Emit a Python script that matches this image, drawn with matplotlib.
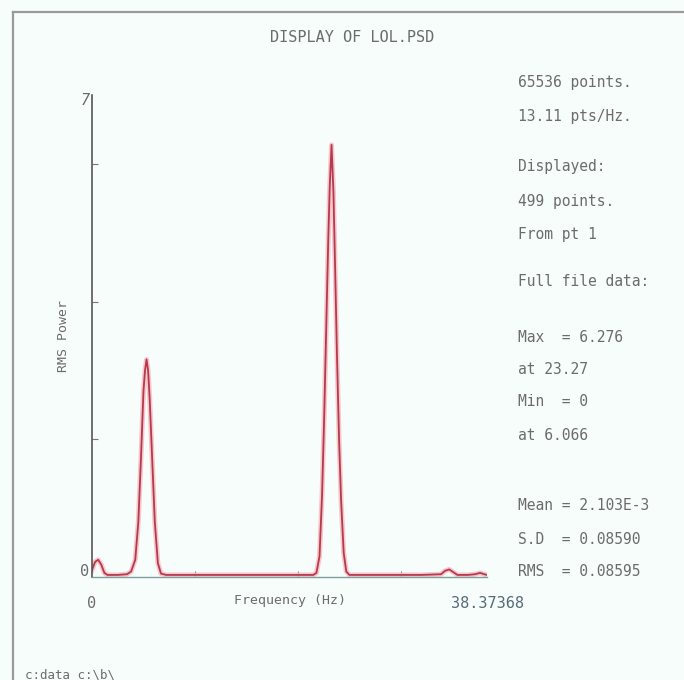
import matplotlib
matplotlib.use("Agg")
import matplotlib.pyplot as plt
from matplotlib.lines import Line2D

# Spectrum trace (frequency in Hz, RMS power)
freq = [0.0, 0.3, 0.6, 0.9, 1.2, 1.5, 2.5, 3.4, 3.8, 4.2, 4.5, 4.75, 5.0, 5.15, 5.3,
        5.45, 5.6, 5.85, 6.1, 6.4, 6.7, 7.2, 12.0, 17.0, 21.5, 21.8, 22.1, 22.35,
        22.55, 22.75, 22.95, 23.1, 23.27, 23.45, 23.6, 23.8, 24.0, 24.2, 24.45,
        24.7, 25.0, 28.0, 32.0, 33.9, 34.3, 34.7, 35.1, 35.5, 36.5, 37.2, 37.7,
        38.1, 38.37]
power = [0.10, 0.22, 0.25, 0.18, 0.06, 0.03, 0.03, 0.04, 0.08, 0.25, 0.8, 1.7,
         2.7, 3.0, 3.16, 3.0, 2.6, 1.7, 0.8, 0.2, 0.05, 0.03, 0.03, 0.03, 0.03,
         0.06, 0.3, 1.2, 2.3, 3.6, 4.9, 5.7, 6.276, 5.6, 4.6, 3.2, 2.0, 1.1, 0.35,
         0.08, 0.03, 0.03, 0.03, 0.04, 0.09, 0.11, 0.07, 0.03, 0.03, 0.04, 0.06,
         0.04, 0.03]

x_max = 38.37
y_max = 7
x_ticks = [10, 20, 30]
y_ticks = [2, 4, 6]

title = "DISPLAY OF LOL.PSD"
info_lines = [
    ("65536 points.", 83),
    ("13.11 pts/Hz.", 117),
    ("Displayed:", 167),
    ("499 points.", 201),
    ("From pt 1", 235),
    ("Full file data:", 281),
    ("Max  = 6.276", 337),
    ("at 23.27", 369),
    ("Min  = 0", 402),
    ("at 6.066", 436),
    ("Mean = 2.103E-3", 505),
    ("S.D  = 0.08590", 539),
    ("RMS  = 0.08595", 572),
]

W, H = 684, 680
bg = "#f7fdfb"
ink = "#6c6c6c"
mono = "DejaVu Sans Mono"

fig = plt.figure(figsize=(W / 100, H / 100), dpi=100, facecolor=bg)


def px(x, y):
    return x / W, 1 - y / H


# page frame
fig.add_artist(Line2D([13 / W, 13 / W], [0, 1 - 12 / H], transform=fig.transFigure,
                      color="#9a9a9a", lw=1.6))
fig.add_artist(Line2D([13 / W, 1], [1 - 12 / H, 1 - 12 / H], transform=fig.transFigure,
                      color="#9a9a9a", lw=1.6))

ax = fig.add_axes([92 / W, (H - 577) / H, 395 / W, 482 / H])
ax.set_facecolor(bg)
ax.plot(freq, power, color="#f2bcc3", lw=3.6, alpha=0.8, solid_joinstyle="round")
ax.plot(freq, power, color="#b8384c", lw=1.3, solid_joinstyle="round")
ax.set_xlim(0, x_max)
ax.set_ylim(0, y_max)

for s in ("top", "right"):
    ax.spines[s].set_visible(False)
ax.spines["left"].set_color("#555555")
ax.spines["left"].set_linewidth(1.2)
ax.spines["bottom"].set_color("#7f9f9c")
ax.spines["bottom"].set_linewidth(1.0)

ax.set_xticks(x_ticks)
ax.set_yticks(y_ticks)
ax.set_xticklabels([])
ax.set_yticklabels([])
ax.tick_params(axis="both", direction="in", length=4, width=0.8, color="#777777")

# axis end labels
ax.text(0, -0.28, "0", ha="center", va="top", fontsize=11,
        family=mono, color=ink)
ax.text(x_max, -0.28, "38.37368", ha="center", va="top", fontsize=11,
        family=mono, color="#556b78")
ax.text(-0.25, 0.08, "0", ha="right", va="center", fontsize=11, family=mono,
        color=ink)
ax.text(-0.25, y_max - 0.08, "7", ha="right", va="center", fontsize=11,
        family=mono, color=ink, style="italic")

ax.set_xlabel("Frequency (Hz)", fontsize=9.5, family=mono, color=ink, labelpad=9)
ax.set_ylabel("RMS Power", fontsize=9.5, family=mono, color=ink, labelpad=12)

fig.text(*px(352, 38), title, ha="center", va="center", fontsize=11,
         family=mono, color=ink)

for txt, y in info_lines:
    fig.text(*px(518, y), txt, ha="left", va="center", fontsize=10.5,
             family=mono, color=ink)

fig.text(*px(25, 675), "c:data c:\\b\\", ha="left", va="center", fontsize=9,
         family=mono, color=ink)

fig.savefig("out.png", dpi=100, facecolor=bg)
